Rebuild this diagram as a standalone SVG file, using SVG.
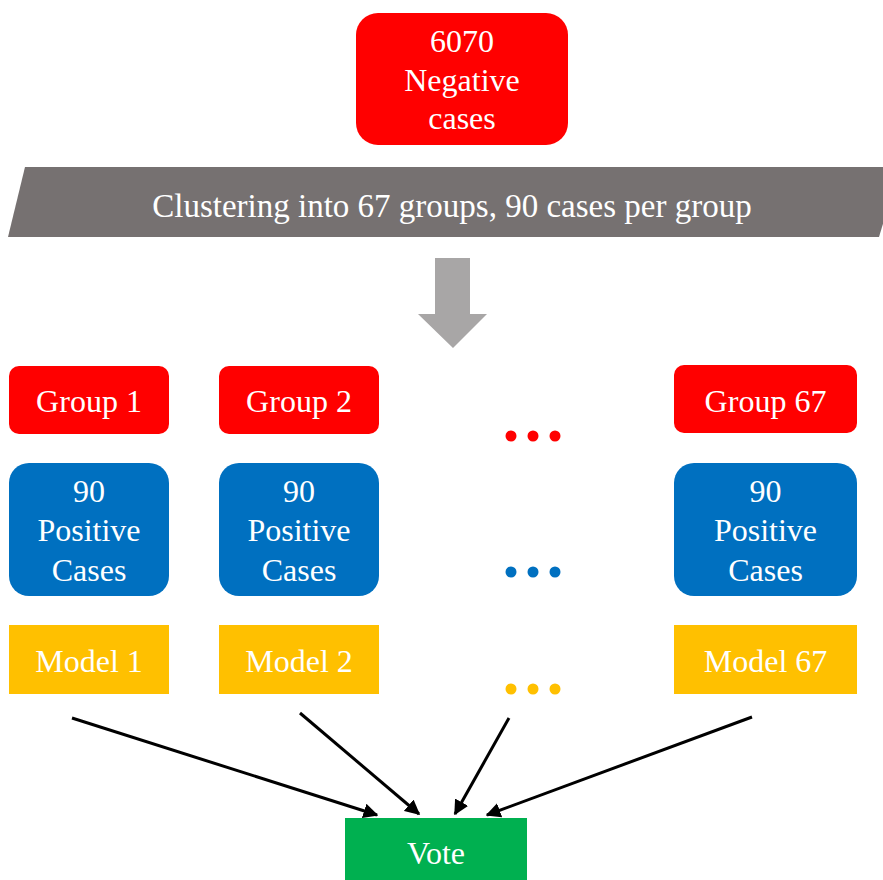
<svg xmlns="http://www.w3.org/2000/svg" width="883" height="880" viewBox="0 0 883 880">
<style>
text{font-family:"Liberation Serif","Times New Roman",serif;font-size:32px;fill:#fff;text-anchor:middle}
.red{fill:#FF0000}.blue{fill:#0070C0}.yel{fill:#FFC000}.grn{fill:#00B050}
.conn{stroke:#000;stroke-width:3;fill:none;marker-end:url(#ah)}
</style>
<defs>
<marker id="ah" viewBox="0 0 10 10" refX="9" refY="5" markerWidth="5" markerHeight="5" orient="auto" markerUnits="strokeWidth">
<path d="M0,0 L10,5 L0,10 z" fill="#000"/>
</marker>
</defs>
<rect width="883" height="880" fill="#fff"/>
<g id="negative">
<rect class="red" x="356" y="13" width="212" height="132" rx="22"/>
<text x="462" y="52">6070</text>
<text x="462" y="91">Negative</text>
<text x="462" y="129">cases</text>
</g>
<g id="clustering">
<polygon points="25,167 900,167 879,237 8,237" fill="#767171"/>
<text x="452" y="217" style="font-size:33px">Clustering into 67 groups, 90 cases per group</text>
</g>
<g id="down-arrow">
<polygon points="435,258 470,258 470,314 487,314 453,348 418,314 435,314" fill="#A8A6A6"/>
</g>
<g id="group1">
<rect class="red" x="9" y="366" width="160" height="68" rx="10"/>
<text x="89" y="412">Group 1</text>
</g>
<g id="group2">
<rect class="red" x="219" y="366" width="160" height="68" rx="10"/>
<text x="299" y="412">Group 2</text>
</g>
<g id="group67">
<rect class="red" x="674" y="365" width="183" height="68" rx="10"/>
<text x="765.5" y="412">Group 67</text>
</g>
<g id="pos1">
<rect class="blue" x="9" y="463" width="160" height="133" rx="20"/>
<text x="89" y="502">90</text>
<text x="89" y="541">Positive</text>
<text x="89" y="581">Cases</text>
</g>
<g id="pos2">
<rect class="blue" x="219" y="463" width="160" height="133" rx="20"/>
<text x="299" y="502">90</text>
<text x="299" y="541">Positive</text>
<text x="299" y="581">Cases</text>
</g>
<g id="pos67">
<rect class="blue" x="674" y="463" width="183" height="133" rx="20"/>
<text x="765.5" y="502">90</text>
<text x="765.5" y="541">Positive</text>
<text x="765.5" y="581">Cases</text>
</g>
<g id="model1">
<rect class="yel" x="9" y="625" width="160" height="69"/>
<text x="89" y="672">Model 1</text>
</g>
<g id="model2">
<rect class="yel" x="219" y="625" width="160" height="69"/>
<text x="299" y="672">Model 2</text>
</g>
<g id="model67">
<rect class="yel" x="674" y="625" width="183" height="69"/>
<text x="765.5" y="672">Model 67</text>
</g>
<g id="dots">
<circle class="red" cx="511" cy="436" r="5.5"/><circle class="red" cx="533" cy="436" r="5.5"/><circle class="red" cx="555" cy="436" r="5.5"/>
<circle class="blue" cx="511" cy="572" r="5.5"/><circle class="blue" cx="533" cy="572" r="5.5"/><circle class="blue" cx="555" cy="572" r="5.5"/>
<circle class="yel" cx="511" cy="689" r="5.5"/><circle class="yel" cx="533" cy="689" r="5.5"/><circle class="yel" cx="555" cy="689" r="5.5"/>
</g>
<g id="vote">
<rect class="grn" x="345" y="818" width="182" height="62"/>
<text x="436" y="864">Vote</text>
</g>
<g id="connectors">
<line class="conn" x1="72" y1="718" x2="377" y2="815"/>
<line class="conn" x1="300" y1="713" x2="419" y2="814"/>
<line class="conn" x1="509" y1="718" x2="455" y2="814"/>
<line class="conn" x1="752" y1="717" x2="487" y2="815"/>
</g>
</svg>
